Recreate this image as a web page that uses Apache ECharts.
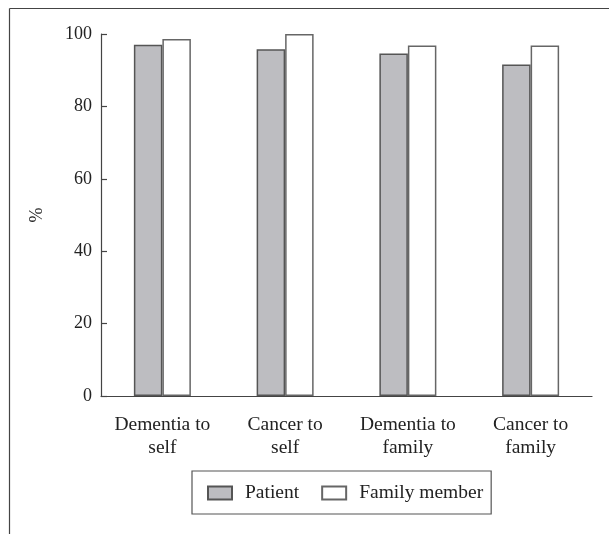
<!DOCTYPE html>
<html><head><meta charset="utf-8">
<script src="https://cdn.jsdelivr.net/npm/echarts@6/dist/echarts.min.js"></script>
<style>html,body{margin:0;padding:0;background:#fff}#c{width:609px;height:534px}</style>
</head><body><div id="c"></div>
<script>
var categories = ['Dementia to\nself', 'Cancer to\nself', 'Dementia to\nfamily', 'Cancer to\nfamily'];
var patient = [97.0, 95.8, 94.6, 91.6];
var familyMember = [98.6, 100, 96.8, 96.8];
var yTicks = [0, 20, 40, 60, 80, 100];
var seriesNames = ['Patient', 'Family member'];

var FONT = '"Liberation Serif", "DejaVu Serif", serif';
var chart = echarts.init(document.getElementById('c'), null, {renderer: 'canvas'});
chart.setOption({
  animation: false,
  backgroundColor: '#fff',
  grid: {left: 101, right: 17, top: 34, bottom: 138, containLabel: false},
  graphic: [
    {type: 'line', shape: {x1: 9.5, y1: 8.5, x2: 609, y2: 8.5}, style: {stroke: '#444', lineWidth: 1.2}},
    {type: 'line', shape: {x1: 9.5, y1: 8.5, x2: 9.5, y2: 534}, style: {stroke: '#444', lineWidth: 1.2}}
  ],
  legend: {
    left: 192, top: 471,
    data: seriesNames,
    orient: 'horizontal',
    borderColor: '#555', borderWidth: 1.2,
    padding: [12, 8, 11, 15],
    itemWidth: 24, itemHeight: 13, itemGap: 22,
    icon: 'rect',
    textStyle: {fontFamily: FONT, fontSize: 19.5, color: '#222', padding: [0, 0, 0, 8]}
  },
  xAxis: {
    type: 'category', data: categories,
    axisTick: {show: false},
    axisLine: {lineStyle: {color: '#444', width: 1.2}},
    axisLabel: {fontFamily: FONT, fontSize: 19.5, color: '#222', lineHeight: 23, margin: 17, interval: 0}
  },
  yAxis: {
    type: 'value', min: 0, max: 100, interval: 20,
    name: '%', nameLocation: 'middle', nameGap: 55, nameRotate: 90,
    nameTextStyle: {fontFamily: FONT, fontSize: 18, color: '#222'},
    axisLine: {show: true, lineStyle: {color: '#444', width: 1.2}},
    axisTick: {show: true, inside: true, length: 6, lineStyle: {color: '#444', width: 1.2}},
    splitLine: {show: false},
    axisLabel: {fontFamily: FONT, fontSize: 18, color: '#222', margin: 9,
      formatter: function (v) { return yTicks.indexOf(v) >= 0 ? String(v) : ''; }}
  },
  series: [
    {name: seriesNames[0], type: 'bar', data: patient, barWidth: 28.5, barGap: '0%',
     itemStyle: {color: '#bdbdc1', borderColor: '#555', borderWidth: 1.5}},
    {name: seriesNames[1], type: 'bar', data: familyMember, barWidth: 28.5, barGap: '0%',
     itemStyle: {color: '#ffffff', borderColor: '#666', borderWidth: 1.5}}
  ]
});
</script></body></html>
